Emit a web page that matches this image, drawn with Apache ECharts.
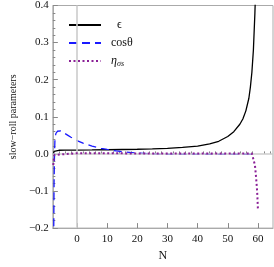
<!DOCTYPE html>
<html>
<head>
<meta charset="utf-8">
<script src="https://cdn.jsdelivr.net/npm/echarts@6/dist/echarts.min.js"></script>
<style>html,body{margin:0;padding:0;background:#fff}#c{width:274px;height:267px}</style>
</head>
<body>
<div id="c"></div>
<script>
var xTicks = [0, 10, 20, 30, 40, 50, 60];
var xMinorTicks = [-6, -4, -2, 2, 4, 6, 8, 12, 14, 16, 18, 22, 24, 26, 28, 32, 34, 36, 38, 42, 44, 46, 48, 52, 54, 56, 58, 62, 64];
var epsN = [-7.8, -7.6, -7.3, -6, -4, 0, 5, 10, 15, 20, 25, 30, 35, 40, 44, 47, 50, 52, 54, 55, 56, 57, 57.5, 58, 58.5, 59, 59.3, 59.6];
var epsV = [0.0, 0.007, 0.0095, 0.0098, 0.0100, 0.0103, 0.0107, 0.0112, 0.0118, 0.0125, 0.0135, 0.015, 0.0175, 0.021, 0.027, 0.034, 0.047, 0.06, 0.08, 0.094, 0.116, 0.15, 0.18, 0.22, 0.28, 0.38, 0.46, 0.6];
var cosN = [-7.75, -7.7, -7.6, -7.45, -7.3, -7, -6.5, -6, -5.5, -5, -4, -3, -2, 0, 2, 5, 8, 10, 13, 16, 20, 25, 30, 40, 50, 55, 58, 58.6];
var cosV = [-0.3, -0.2, -0.08, 0.0, 0.04, 0.055, 0.061, 0.063, 0.062, 0.06, 0.055, 0.05, 0.045, 0.036, 0.029, 0.021, 0.015, 0.012, 0.008, 0.005, 0.002, 0.0, -0.001, -0.001, -0.001, -0.001, -0.001, -0.004];
var etaN = [-7.85, -7.7, -7.5, -7.3, -7, 0, 10, 20, 30, 40, 50, 58, 58.6, 59, 59.3, 59.6, 59.8, 60];
var etaV = [-0.03, -0.015, -0.003, 0.002, 0.002, 0.002, 0.002, 0.001, 0.001, 0.001, 0.001, 0.001, 0.0, -0.03, -0.055, -0.085, -0.11, -0.15];

function pairs(xs, ys) { return xs.map(function (x, i) { return [x, ys[i]]; }); }
var serif = '"Liberation Serif", "DejaVu Serif", serif';
var chart = echarts.init(document.getElementById('c'), null, { renderer: 'canvas' });
chart.setOption({
  animation: false,
  grid: { left: 43.5, top: 4, right: 1, bottom: 32, show: true, borderColor: '#aaa', borderWidth: 1 },
  legend: {
    orient: 'vertical', left: 63, top: 14, itemWidth: 32, itemHeight: 8, itemGap: 6,
    itemStyle: { opacity: 0 },
    textStyle: { fontFamily: serif, fontSize: 12, color: '#111', padding: [0, 0, 0, 5],
      rich: { e: { fontFamily: serif, fontSize: 12, color: '#111', padding: [0, 0, 0, 6] },
              i: { fontFamily: serif, fontStyle: 'italic', fontSize: 12, color: '#111' },
              s: { fontFamily: serif, fontStyle: 'italic', fontSize: 8, color: '#111', verticalAlign: 'bottom', padding: [6,0,0,0] } } },
    formatter: function (n) {
      if (n === 'eta') return '{i|η}{s|σs}';
      if (n === 'ϵ') return '{e|ϵ}';
      return n;
    },
    data: ['ϵ', 'cosθ', 'eta']
  },
  xAxis: [{
    type: 'value', min: -8, max: 65, position: 'bottom',
    name: 'N', nameLocation: 'middle', nameGap: 21,
    nameTextStyle: { fontFamily: serif, fontSize: 12, color: '#111' },
    axisLine: { onZero: false, lineStyle: { color: '#aaa' } },
    axisTick: { inside: true, length: 5, customValues: xTicks, lineStyle: { color: '#888' } },
    axisLabel: { customValues: xTicks, fontFamily: serif, fontSize: 11, color: '#111', margin: 6 },
    splitLine: { show: false }
  }, {
    type: 'value', min: -8, max: 65, position: 'bottom',
    axisLine: { show: false },
    axisTick: { inside: true, length: 2.5, customValues: xMinorTicks, lineStyle: { color: '#888' } },
    axisLabel: { show: false },
    splitLine: { show: false }
  }],
  yAxis: {
    type: 'value', min: -0.2, max: 0.4, interval: 0.1,
    name: 'slow−roll parameters', nameLocation: 'middle', nameGap: 31, nameRotate: 90,
    nameTextStyle: { fontFamily: serif, fontSize: 10, color: '#111' },
    axisLine: { onZero: false, lineStyle: { color: '#aaa' } },
    axisTick: { inside: true, length: 5, lineStyle: { color: '#888' } },
    minorTick: { show: true, splitNumber: 5, length: 2.5, lineStyle: { color: '#888' } },
    axisLabel: { fontFamily: serif, fontSize: 11, color: '#111', margin: 4,
      formatter: function (v) { var s = Math.abs(v).toFixed(1); return (v < -1e-9 ? '−' : '') + s; } },
    splitLine: { show: false }
  },
  series: [{
    name: 'ϵ', type: 'line', symbol: 'none', data: pairs(epsN, epsV), clip: true, z: 3,
    lineStyle: { color: '#000', width: 1.3 }, itemStyle: { color: '#000' },
    markLine: { silent: true, symbol: 'none', label: { show: false }, animation: false,
      lineStyle: { color: '#ccc', width: 1.6, type: 'solid' },
      data: [{ xAxis: 0 }, { yAxis: 0 }] }
  }, {
    name: 'cosθ', type: 'line', symbol: 'none', data: pairs(cosN, cosV), clip: true, z: 4,
    lineStyle: { color: '#1a1aff', width: 1.3, type: [8, 5] }, itemStyle: { color: '#1a1aff' }
  }, {
    name: 'eta', type: 'line', symbol: 'none', data: pairs(etaN, etaV), clip: true, z: 5,
    lineStyle: { color: '#8a1f96', width: 2, type: [2, 2.5] }, itemStyle: { color: '#8a1f96' }
  }]
});
</script>
</body>
</html>
